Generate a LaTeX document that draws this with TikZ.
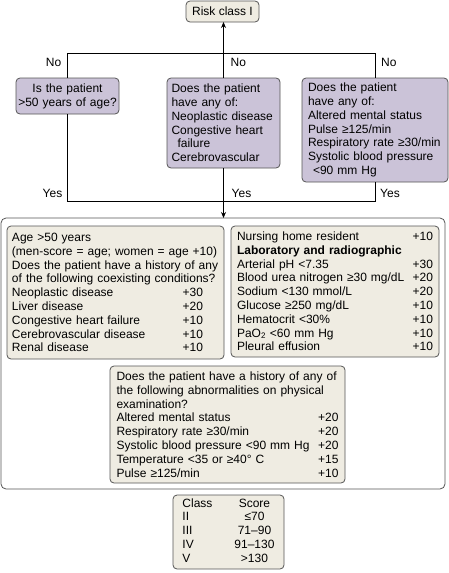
\documentclass[tikz,border=0pt]{standalone}
\usepackage{fontspec}
\setmainfont{Liberation Sans}
\usetikzlibrary{
  arrows.meta,
  positioning
}
\definecolor{riskCream}{HTML}{EFECE2}
\definecolor{riskLilac}{HTML}{CBC3D8}
\definecolor{riskGray}{HTML}{555555}
\newcommand{\chartFont}{\fontsize{12}{13.8}\selectfont}
\newcommand{\scoreRow}[3]{\makebox[#1][l]{#2\hfill#3}}
\tikzset{
  riskBase/.style={
    draw=riskGray,
    rounded corners=4pt,
    line width=0.8pt,
    font=\chartFont,
    anchor=north west,
    inner ysep=0pt,
    outer sep=0pt
  },
  questionBox/.style={riskBase, fill=riskLilac, align=left},
  scoreBox/.style={riskBase, fill=riskCream, align=left},
  outerBox/.style={riskBase, fill=white, rounded corners=5pt},
  flowLine/.style={line width=0.9pt, black},
  flowArrow/.style={flowLine, -{Stealth[length=6pt,width=5pt]}},
  branchLabel/.style={font=\chartFont, inner sep=0pt}
}

\begin{document}
\begin{tikzpicture}[x=1pt,y=-1pt]
  \useasboundingbox (0,0) rectangle (449,573);

  % entry questions
  \node[scoreBox, align=center, inner xsep=0pt, minimum width=73pt, minimum height=21pt]
    (risk) at (186,1) {Risk class I};
  \node[questionBox, align=center, text width=99pt, inner xsep=2pt, minimum height=36pt]
    (ageQ) at (16,78)
    {Is the patient\\>50 years of age?};
  \node[questionBox, text width=104pt, inner xsep=4.5pt, minimum height=90pt]
    (comorbQ) at (167,78)
    {Does the patient\\
    have any of:\\
    Neoplastic disease\\
    Congestive heart\\
    \hspace*{6pt}failure\\
    Cerebrovascular};
  \node[questionBox, text width=134pt, inner xsep=6pt, minimum height=104pt]
    (vitalQ) at (302,78)
    {Does the patient\\
    have any of:\\
    Altered mental status\\
    Pulse ≥125/min\\
    Respiratory rate ≥30/min\\
    Systolic blood pressure\\
    \hspace*{5pt}<90 mm Hg};

  % scoring panel
  \node[outerBox, minimum width=444pt, minimum height=271pt]
    (scoring) at (1,218) {};
  \node[scoreBox, text width=207pt, inner xsep=5pt, minimum height=133pt]
    (history) at (7,226)
    {Age >50 years\\
    (men-score = age; women = age +10)\\
    Does the patient have a history of any\\
    of the following coexisting conditions?\\
    \scoreRow{191pt}{Neoplastic disease}{+30}\\
    \scoreRow{191pt}{Liver disease}{+20}\\
    \scoreRow{191pt}{Congestive heart failure}{+10}\\
    \scoreRow{191pt}{Cerebrovascular disease}{+10}\\
    \scoreRow{191pt}{Renal disease}{+10}};
  \node[scoreBox, text width=196pt, inner xsep=6pt, minimum height=131pt]
    (labs) at (231,226)
    {\scoreRow{196pt}{Nursing home resident}{+10}\\
    \textbf{Laboratory and radiographic}\\
    \scoreRow{196pt}{Arterial pH <7.35}{+30}\\
    \scoreRow{196pt}{Blood urea nitrogen ≥30 mg/dL}{+20}\\
    \scoreRow{196pt}{Sodium <130 mmol/L}{+20}\\
    \scoreRow{196pt}{Glucose ≥250 mg/dL}{+10}\\
    \scoreRow{196pt}{Hematocrit <30\%}{+10}\\
    \scoreRow{196pt}{PaO\textsubscript{2} <60 mm Hg}{+10}\\
    \scoreRow{196pt}{Pleural effusion}{+10}};
  \node[scoreBox, text width=222pt, inner xsep=6.5pt, minimum height=117pt]
    (exam) at (110,366)
    {Does the patient have a history of any of\\
    the following abnormalities on physical\\
    examination?\\
    \scoreRow{222pt}{Altered mental status}{+20}\\
    \scoreRow{222pt}{Respiratory rate ≥30/min}{+20}\\
    \scoreRow{222pt}{Systolic blood pressure <90 mm Hg}{+20}\\
    \scoreRow{222pt}{Temperature <35 or ≥40° C}{+15}\\
    \scoreRow{222pt}{Pulse ≥125/min}{+10}};

  % class table
  \node[scoreBox, inner xsep=7pt, minimum width=111pt, minimum height=74pt]
    (classes) at (173,495)
    {\begin{tabular}{@{}l@{\hspace{22pt}}c@{}}
      Class & Score\\
      II & ≤70\\
      III & 71–90\\
      IV & 91–130\\
      V & >130
    \end{tabular}};

  % connectors
  \coordinate (noBar) at (0,53);
  \coordinate (yesBar) at (0,201);
  \coordinate (noRow) at (0,62);
  \coordinate (yesRow) at (0,193);
  \draw[flowLine] (ageQ.north) -- (ageQ.north |- noBar) -| (vitalQ.north);
  \draw[flowArrow] (comorbQ.north) -- (comorbQ.north |- risk.south);
  \draw[flowLine] (ageQ.south) -- (ageQ.south |- yesBar) -| (vitalQ.south);
  \draw[flowArrow] (comorbQ.south) -- (comorbQ.south |- scoring.north);

  % branch labels
  \node[branchLabel, anchor=east, xshift=-6pt] (noA) at (ageQ.north |- noRow) {No};
  \node[branchLabel, anchor=west, xshift=7pt] (noB) at (comorbQ.north |- noRow) {No};
  \node[branchLabel, anchor=west, xshift=6pt] (noC) at (vitalQ.north |- noRow) {No};
  \node[branchLabel, anchor=east, xshift=-5pt] (yesA) at (ageQ.south |- yesRow) {Yes};
  \node[branchLabel, anchor=west, xshift=8pt] (yesB) at (comorbQ.south |- yesRow) {Yes};
  \node[branchLabel, anchor=west, xshift=5pt] (yesC) at (vitalQ.south |- yesRow) {Yes};
\end{tikzpicture}
\end{document}
